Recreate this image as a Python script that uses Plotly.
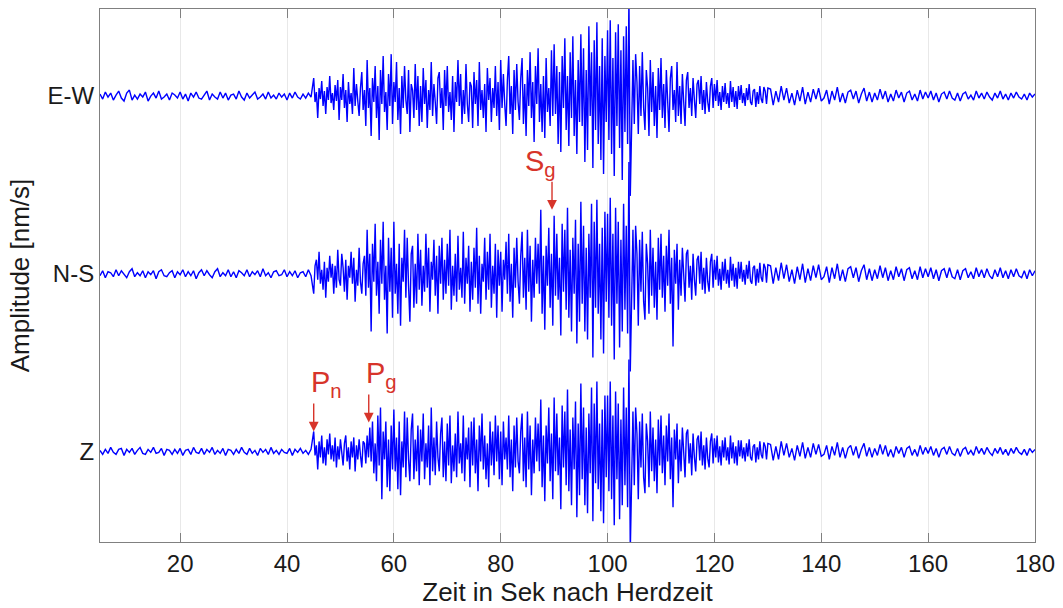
import numpy as np
import plotly.graph_objects as go

# Each component is stored in three pieces:
#   *_PRE  : pre-event noise, 0.5 s steps from 5 s
#   *_MAIN : P to coda, 0.25 s steps from 45 s
#   *_POST : late coda, 0.5 s steps from 130 s
PRE_START, PRE_DT = 5.0, 0.5
MAIN_START, MAIN_DT = 45.0, 0.25
POST_START, POST_DT = 130.0, 0.5

COMPONENTS = ["E-W", "N-S", "Z"]
OFFSETS = [3, 2, 1]
NORM = 178.0  # amplitude normalisation so traces share one axis

EW_PRE = [
    2, -3, 4, -1, 3, -4, 1, 5, -2, -5,
    3, 6, -4, 1, -3, 2, -1, 4, -5, 0,
    3, -2, 5, -3, -1, 2, -4, 3, 1, -2,
    4, -3, 2, -5, 3, -1, 4, -2, -3, 1,
    5, -4, 2, -1, -3, 4, -2, 3, -4, 1,
    2, -3, 5, -1, -4, 3, -2, 1, 4, -3,
    -1, 2, -3, 4, -2, 1, -3, 3, -1, 2,
    -4, 3, -2, 4, -1, -3, 2, -2, 3, -1,
]
EW_MAIN = [
    18, -6, 4, -22, 8, -3, 15, -10, 5, -18, 9, -4, 20, -7, 3, -14, 11, -5, 16, -24,      # 45
    9, -4, 22, -12, 6, -26, 14, -8, 3, -18, 28, -10, 12, -5, -20, 8, 24, -14, 6, -30,     # 50
    36, -12, 8, -40, 18, -6, 30, -22, 10, -44, 26, -8, 40, -16, 4, -34, 22, -10, 42, -28, # 55
    14, -6, 34, -24, 8, -38, 20, -12, 30, -4, -18, 26, -36, 12, 6, -22, 32, -14, 20, -30, # 60
    10, -26, 28, -8, 16, -32, 6, -14, 34, -20, 12, -6, -28, 18, 24, -12, 8, -34, 26, -10, # 65
    30, -16, 4, -24, 20, -36, 14, -6, 36, -10, 22, -28, 6, -18, 32, -8, -26, 14, 10, -32, # 70
    24, -8, 16, -30, 34, -14, 6, -22, 12, -36, 28, -4, 18, -26, 8, -12, 30, -20, 14, -34, # 75
    36, -12, 22, -8, -30, 16, 40, -18, 10, -38, 26, -14, 32, -6, -24, 18, 38, -28, 12, -40,  # 80
    26, -10, 44, -22, 14, -46, 30, -8, 48, -26, 12, -36, 20, -42, 38, -16, 8, -30, 46, -20,  # 85
    52, -18, 30, -48, 24, -56, 40, -12, 58, -34, 20, -50, 44, -22, 60, -40, 16, -58, 36, -26,  # 90
    62, -30, 48, -66, 26, -54, 70, -20, 44, -72, 56, -34, 74, -48, 30, -64, 58, -78, 40, -26,  # 95
    66, -44, 76, -58, 38, -80, 64, -30, 72, -52, 46, -84, 60, -36, 70, -48, 100, -100, -40, 36,  # 100
    -28, 42, 14, -38, 30, -20, 44, -12, -34, 26, 8, -40, 36, -16, 24, -30, 10, -42, 28, -14,  # 105
    38, -22, 12, -32, 26, -8, -36, 18, 30, -14, 6, -26, 34, -20, 10, -28, 22, -6, -30, 16,    # 110
    24, -12, 8, -20, 18, -4, -22, 12, 16, -8, 20, -14, 6, -18, 14, -6, -16, 10, 18, -12,      # 115
    12, -5, 16, -10, 4, -14, 10, -6, 13, -8, 3, -12, 15, -6, 9, -11, 5, -13, 10, -4,          # 120
    11, -7, 3, -10, 8, -4, 12, -6, -9, 5, 7, -11, 4, -8, 10, -3, -7, 9, 5, -8,                # 125
]
EW_POST = [
    8,
    7, -9, 5, -6, 10, -4, 8, -7, 3, -9,
    6, -5, 9, -8, 4, -6, 7, -3, 8, -5,
    -2, 6, -8, 5, -4, 9, -6, 3, -7, 4,
    6, -3, 5, -7, 2, 8, -5, 4, -6, 3,
    -4, 7, -3, 5, -6, 2, -5, 6, -2, 4,
    -6, 3, 5, -4, 2, -5, 6, -3, 4, -2,
    5, -4, 3, -6, 2, 4, -3, 5, -2, -4,
    3, -5, 2, 4, -3, 1, -4, 5, -2, 3,
    -3, 4, -1, -4, 3, -2, 5, -3, 2, -4,
    3, -2, 4, -1, -3, 2, -4, 3, -1, 2,
]

NS_PRE = [
    -2, 3, -4, 2, 1, -3, 4, -2, 3, -1,
    -4, 2, 5, -3, 1, -2, 3, -4, 2, -1,
    3, -5, 2, 4, -2, -3, 1, 3, -4, 2,
    -1, 4, -3, 2, -2, 3, -5, 1, 4, -2,
    3, -1, -4, 2, 5, -3, 1, -2, 4, -3,
    2, -4, 3, 1, -2, 4, -3, 2, -1, 3,
    -3, 5, -2, 1, -4, 2, 3, -2, -1, 4,
    -3, 2, -2, 3, -4, 1, 2, -3, 4, -2,
]
NS_MAIN = [
    -20, 8, 14, -6, 22, -10, 4, -16, 12, -24, 6, -8, 18, -4, 10, -20, 8, -14, 24, -6,      # 45
    -12, 20, 6, -18, 14, -26, 8, -4, 22, -10, 16, -28, 4, -12, 26, -8, -20, 10, 18, -22,    # 50
    44, -14, 20, -58, 30, -8, 50, -22, 12, -40, 34, -10, 52, -26, 8, -60, 36, -18, 26, -44, # 55
    52, -20, 10, -40, 30, -52, 16, -8, 44, -24, 36, -12, -48, 20, 28, -34, 10, -30, 40, -16, # 60
    24, -32, 8, -18, 40, -14, 26, -38, 12, -6, 34, -22, 18, -40, 28, -10, 36, -26, 14, -20, # 65
    30, -12, 44, -36, 8, -22, 20, -28, 38, -16, 6, -24, 42, -30, 16, -10, 28, -38, 12, -26, # 70
    26, -14, 46, -30, 18, -40, 10, -8, 36, -26, 22, -16, 40, -34, 8, -20, 30, -44, 24, -12, # 75
    22, -38, 14, -6, 32, -20, 40, -28, 10, -44, 26, -14, 36, -8, -30, 18, 42, -24, 16, -36, # 80
    44, -18, 28, -48, 14, -24, 36, -10, 30, -20, 64, -40, 18, -56, 28, -12, 46, -34, 20, -52,  # 85
    58, -22, 40, -26, 16, -62, 50, -18, 44, -36, 66, -44, 24, -58, 36, -20, 54, -70, 30, -48,  # 90
    72, -30, 48, -58, 26, -66, 40, -24, 70, -84, 52, -34, 74, -40, 30, -66, 46, -80, 62, -28,  # 95
    60, -44, 76, -52, 40, -86, 66, -30, 52, -74, 34, -58, 70, -36, 48, -60, 112, -98, -30, 44,  # 100
    -36, 48, 20, -52, 34, -18, 42, -28, -46, 30, 10, -40, 44, -22, 26, -34, 12, -46, 36, -16,  # 105
    40, -24, 18, -38, 28, -12, 44, -30, 16, -73, 24, -10, 30, -36, 14, -22, 26, -8, -28, 20,   # 110
    24, -14, 8, -26, 20, -6, -22, 14, 18, -10, 22, -16, 6, -20, 16, -8, -18, 12, 20, -14,      # 115
    14, -6, 18, -12, 5, -16, 12, -7, 15, -10, 4, -14, 17, -7, 10, -13, 6, -15, 12, -5,         # 120
    12, -8, 4, -11, 9, -5, 13, -7, -10, 6, 8, -12, 5, -9, 11, -4, -8, 10, 6, -9,               # 125
]
NS_POST = [
    9,
    8, -10, 6, -7, 11, -5, 9, -8, 4, -10,
    7, -6, 10, -9, 5, -7, 8, -4, 9, -6,
    -3, 7, -9, 6, -5, 10, -7, 4, -8, 5,
    7, -4, 6, -8, 3, 9, -6, 5, -7, 4,
    -5, 8, -4, 6, -7, 3, -6, 7, -3, 5,
    -7, 4, 6, -5, 3, -6, 7, -4, 5, -3,
    6, -5, 4, -7, 3, 5, -4, 6, -3, -5,
    4, -6, 3, 5, -4, 2, -5, 6, -3, 4,
    -4, 5, -2, -5, 4, -3, 6, -4, 3, -5,
    4, -3, 5, -2, -4, 3, -5, 4, -2, 3,
]

Z_PRE = [
    1, -3, 2, -2, 4, -1, -3, 2, 3, -4,
    2, -1, 3, -3, 1, 4, -2, -3, 2, -1,
    4, -2, -1, 3, -4, 2, 1, -3, 2, -2,
    3, -4, 1, 2, -3, 4, -1, -2, 3, -3,
    2, -1, 4, -3, 1, -2, 3, -4, 2, 1,
    -3, 2, -2, 4, -1, -3, 3, -2, 1, -4,
    3, -1, 2, -3, 4, -2, 1, -3, 2, -1,
    -2, 3, -4, 2, -1, 3, -2, 1, -3, 2,
]
Z_MAIN = [
    20, -4, 6, -18, 10, -6, 16, -12, 4, -14, 12, -3, 18, -8, 6, -10, 14, -16, 5, -8,       # 45
    12, -4, -14, 8, 16, -10, 4, -18, 10, -6, 14, -20, 6, -8, 12, -4, -16, 10, 8, -12,      # 50
    16, -6, 24, -10, 30, -22, 8, -30, 36, -14, 44, -48, 20, -8, 30, -36, 12, -40, 26, -18, # 55
    42, -20, 14, -38, 30, -44, 10, -16, 40, -26, 34, -8, -30, 22, 38, -28, 12, -20, 26, -34, # 60
    22, -10, 38, -28, 8, -16, 26, -34, 44, -20, 14, -24, 30, -6, -20, 18, 34, -26, 10, -30, # 65
    28, -14, 36, -32, 6, -20, 18, -26, 40, -12, 8, -22, 36, -30, 14, -8, 24, -36, 30, -14, # 70
    34, -22, 12, -40, 26, -10, 38, -18, 16, -28, 8, -36, 30, -14, 20, -24, 36, -10, 26, -28, # 75
    20, -34, 30, -8, 14, -18, 36, -26, 12, -40, 26, -16, 34, -10, -22, 20, 38, -30, 14, -36, # 80
    40, -18, 26, -44, 12, -22, 34, -10, 28, -20, 52, -36, 16, -50, 26, -12, 44, -30, 18, -48,  # 85
    54, -20, 38, -24, 14, -58, 46, -16, 40, -34, 62, -40, 22, -54, 34, -18, 50, -66, 28, -44,  # 90
    68, -28, 44, -54, 24, -62, 38, -22, 64, -70, 48, -32, 70, -38, 28, -60, 42, -72, 56, -26,  # 95
    56, -40, 70, -48, 36, -74, 60, -28, 48, -68, 32, -54, 64, -34, 44, -56, 92, -100, -26, 40,  # 100
    -34, 44, 18, -48, 30, -16, 38, -26, -42, 28, 10, -36, 40, -20, 24, -30, 12, -42, 32, -14,  # 105
    36, -22, 16, -34, 26, -10, 38, -28, 14, -56, 22, -8, 28, -32, 12, -20, 24, -8, -26, 18,    # 110
    22, -12, 8, -24, 18, -6, -20, 12, 16, -9, 20, -14, 6, -18, 14, -7, -16, 10, 18, -12,       # 115
    13, -6, 16, -11, 5, -14, 11, -6, 14, -9, 4, -13, 16, -7, 9, -12, 5, -14, 11, -5,           # 120
    11, -7, 4, -10, 8, -5, 12, -6, -9, 5, 7, -11, 4, -8, 10, -3, -7, 9, 5, -8,                 # 125
]
Z_POST = [
    8,
    7, -9, 5, -8, 10, -4, 8, -6, 3, -9,
    6, -5, 9, -7, 4, -6, 8, -3, 7, -5,
    -3, 6, -8, 5, -4, 9, -6, 4, -7, 3,
    6, -4, 5, -7, 2, 8, -5, 4, -6, 3,
    -4, 7, -3, 6, -5, 2, -6, 5, -2, 4,
    -6, 3, 5, -4, 2, -5, 6, -3, 4, -2,
    5, -4, 3, -6, 2, 4, -3, 5, -2, -4,
    3, -5, 2, 4, -3, 1, -4, 5, -2, 3,
    -3, 4, -1, -4, 3, -2, 4, -3, 2, -4,
    3, -2, 4, -1, -3, 2, -4, 3, -1, 2,
]

# Phase picks
PHASE_LABELS = ["P<sub>n</sub>", "P<sub>g</sub>", "S<sub>g</sub>"]
PHASE_TIMES = [45.0, 55.3, 89.6]
PHASE_COMPONENT = ["Z", "Z", "N-S"]

X_TICKS = [20, 40, 60, 80, 100, 120, 140, 160, 180]

FONT = "Liberation Sans, Arial, sans-serif"
TRACE_BLUE = "#0000ff"
PICK_RED = "#d7342a"


def assemble(pre, main, post):
    """Join the three sampled pieces into one time/amplitude series."""
    pieces = [(pre, PRE_START, PRE_DT), (main, MAIN_START, MAIN_DT),
              (post, POST_START, POST_DT)]
    t = np.concatenate([s + d * np.arange(len(v)) for v, s, d in pieces])
    a = np.concatenate([np.asarray(v, dtype=float) for v, _, _ in pieces])
    return t, a


traces = [assemble(EW_PRE, EW_MAIN, EW_POST),
          assemble(NS_PRE, NS_MAIN, NS_POST),
          assemble(Z_PRE, Z_MAIN, Z_POST)]

fig = go.Figure()

for name, off, (t, a) in zip(COMPONENTS, OFFSETS, traces):
    fig.add_trace(go.Scatter(
        x=t, y=off + a / NORM, mode="lines", name=name,
        line=dict(color=TRACE_BLUE, width=1.4),
        showlegend=False, hoverinfo="skip",
    ))

# arrow tip height above each trace (axis units) and label placement
tip_above = [0.112, 0.163, 0.36]
label_dx = [-5, -5, -29]
arrow_len = 30
offset_of = dict(zip(COMPONENTS, OFFSETS))

for lab, tp, comp, h, dx in zip(PHASE_LABELS, PHASE_TIMES, PHASE_COMPONENT,
                                tip_above, label_dx):
    y_tip = offset_of[comp] + h
    fig.add_annotation(
        x=tp, y=y_tip, xref="x", yref="y", text=" ",
        font=dict(size=1), showarrow=True, ax=0, ay=-arrow_len,
        arrowhead=2, arrowsize=1.4, arrowwidth=1.4, arrowcolor=PICK_RED,
    )
    fig.add_annotation(
        x=tp, y=y_tip, xref="x", yref="y", text=lab, showarrow=False,
        xanchor="left", yanchor="bottom", xshift=dx, yshift=arrow_len - 3,
        font=dict(family=FONT, size=29, color=PICK_RED),
    )

fig.update_layout(
    width=1063, height=608,
    margin=dict(l=100, r=26, t=8, b=66),
    paper_bgcolor="white", plot_bgcolor="white",
    font=dict(family=FONT, size=24, color="#1a1a1a"),
    xaxis=dict(
        range=[5, 180], tickvals=X_TICKS, ticks="inside", ticklen=9,
        tickcolor="#808080", showline=True, linecolor="#808080",
        linewidth=1, mirror="ticks", showgrid=True, gridcolor="#e8e8e8",
        gridwidth=1, zeroline=False, tickfont=dict(size=24),
        title=dict(text="Zeit in Sek nach Herdzeit", font=dict(size=26),
                   standoff=2),
    ),
    yaxis=dict(
        range=[0.49, 3.49], tickvals=OFFSETS, ticktext=COMPONENTS,
        ticks="", showline=True, linecolor="#808080", linewidth=1,
        mirror=True, showgrid=False, zeroline=False,
        tickfont=dict(size=24),
        title=dict(text="Amplitude [nm/s]", font=dict(size=26), standoff=10),
    ),
)

fig.write_html("out.html")
